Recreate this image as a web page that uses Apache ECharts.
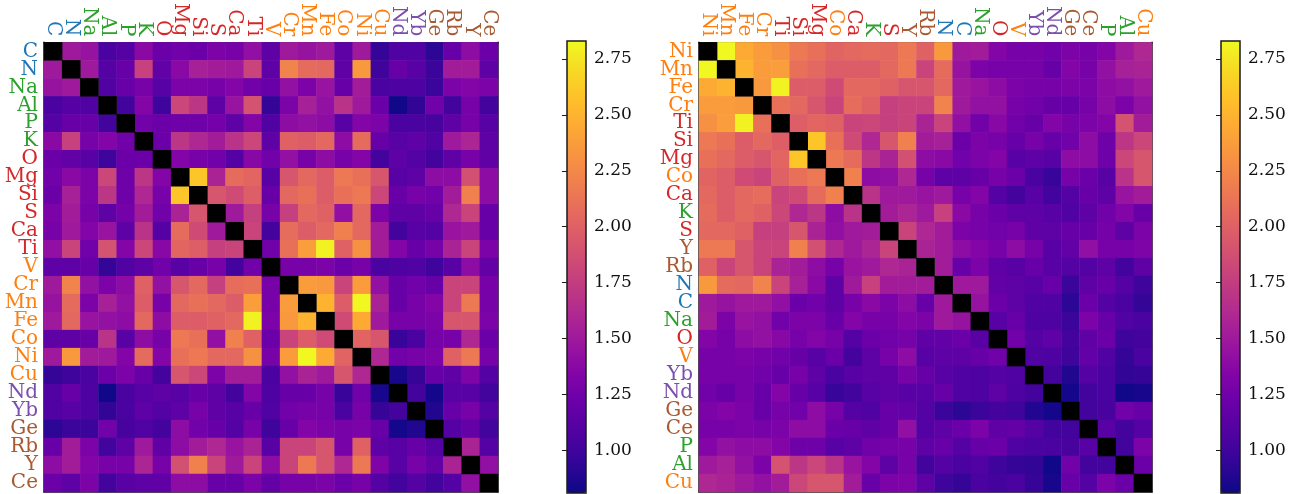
<!DOCTYPE html>
<html><head><meta charset="utf-8">
<script src="https://cdn.jsdelivr.net/npm/echarts@6/dist/echarts.min.js"></script>
<style>html,body{margin:0;padding:0;background:#fff}#c{width:1301px;height:494px}</style>
</head><body><div id="c"></div><script>
// ---------------- DATA ----------------
const elementsLeft = ['C','N','Na','Al','P','K','O','Mg','Si','S','Ca','Ti','V','Cr','Mn','Fe','Co','Ni','Cu','Nd','Yb','Ge','Rb','Y','Ce'];
const elementsRight = ['Ni','Mn','Fe','Cr','Ti','Si','Mg','Co','Ca','K','S','Y','Rb','N','C','Na','O','V','Yb','Nd','Ge','Ce','P','Al','Cu'];
// upper triangle (row i, columns i+1..end) in elementsLeft order
const upperTriangle = [
  [1.50,1.45,1.05,1.10,1.38,1.22,1.25,1.22,1.30,1.28,1.42,1.15,1.50,1.45,1.50,1.15,1.50,0.95,1.08,1.08,0.92,1.20,1.40,1.22],
  [1.50,1.10,1.20,1.78,1.17,1.38,1.55,1.52,1.50,1.80,1.15,2.22,2.07,2.05,1.15,2.35,1.00,1.20,1.12,0.98,1.52,1.52,1.15],
  [1.08,1.20,1.28,1.12,1.30,1.30,1.28,1.35,1.25,1.20,1.43,1.30,1.46,1.20,1.52,1.05,1.07,1.07,0.98,1.30,1.35,1.30],
  [1.02,1.35,1.00,1.82,1.70,1.15,1.46,1.90,0.95,1.30,1.55,1.43,1.68,1.50,1.22,0.82,0.94,1.25,1.02,1.28,1.03],
  [1.25,1.22,1.24,1.24,1.27,1.15,1.35,1.08,1.40,1.43,1.40,1.12,1.35,1.30,1.05,1.05,1.04,1.15,1.28,1.12],
  [1.22,1.70,1.60,1.52,1.68,1.82,1.15,2.00,1.97,2.05,1.40,2.07,1.20,1.12,1.15,1.08,1.50,1.58,1.15],
  [1.35,1.28,1.25,1.10,1.37,1.25,1.43,1.28,1.40,1.28,1.35,1.03,1.15,1.10,1.03,1.16,1.28,1.16],
  [2.60,1.57,2.07,2.03,1.12,1.92,2.05,1.97,2.15,2.10,1.92,1.12,1.15,1.40,1.40,1.88,1.40],
  [1.92,1.85,1.98,1.20,2.05,2.10,1.97,2.10,2.15,1.82,1.20,1.28,1.25,1.52,2.20,1.40],
  [1.50,1.77,1.28,1.77,2.05,2.00,1.42,2.05,1.30,1.15,1.16,1.20,1.60,1.80,1.20],
  [1.80,1.03,2.08,1.97,2.05,2.20,2.05,1.52,1.02,1.12,1.10,1.46,1.50,1.20],
  [1.25,2.10,2.38,2.80,2.00,2.30,1.52,1.35,1.20,1.28,1.57,1.80,1.30],
  [1.28,1.28,1.30,1.22,1.28,1.05,1.07,1.08,1.00,1.12,1.40,1.18],
  [2.37,2.35,1.80,2.37,1.43,1.20,1.25,1.20,1.80,1.80,1.28],
  [2.50,1.97,2.82,1.57,1.20,1.28,1.35,1.80,2.15,1.28],
  [1.85,2.45,1.50,1.28,1.28,1.30,1.92,1.92,1.30],
  [2.02,1.92,0.97,1.05,1.28,1.28,1.60,1.22],
  [1.60,1.25,1.28,1.30,2.00,2.15,1.28],
  [0.85,0.96,1.20,1.15,1.32,1.10],
  [1.03,0.84,1.12,1.12,1.02],
  [0.88,1.20,1.28,1.10],
  [1.10,1.18,1.02],
  [1.57,1.10],
  [1.42],
  []
];
const colorbarTicks = [1.00,1.25,1.50,1.75,2.00,2.25,2.50,2.75];
const colorMin = 0.81, colorMax = 2.83;

// ---------------- STYLE ----------------
const groupColor = {
  C:'#1f77b4', N:'#1f77b4',
  Na:'#2ca02c', Al:'#2ca02c', P:'#2ca02c', K:'#2ca02c',
  O:'#d62728', Mg:'#d62728', Si:'#d62728', S:'#d62728', Ca:'#d62728', Ti:'#d62728',
  V:'#ff7f0e', Cr:'#ff7f0e', Mn:'#ff7f0e', Fe:'#ff7f0e', Co:'#ff7f0e', Ni:'#ff7f0e', Cu:'#ff7f0e',
  Nd:'#7b4fae', Yb:'#7b4fae',
  Ge:'#a85a32', Rb:'#a85a32', Y:'#a85a32', Ce:'#a85a32'
};
const plasma = ['#0d0887','#330597','#5002a2','#6a00a8','#8405a7','#9c179e','#b12a90','#c33d80','#d35171','#e16462','#ed7953','#f68f44','#fca636','#febe2a','#f8d824','#f0f921'];
const FONT = 'DejaVu Serif';
const FRAME = '#1a1a1a';
const LABEL_SIZE = 20;

// ---------------- BUILD ----------------
const n = elementsLeft.length;
const M = [];
for (let i = 0; i < n; i++) { M.push(new Array(n).fill(null)); }
for (let i = 0; i < n; i++) {
  for (let j = i + 1; j < n; j++) {
    M[i][j] = upperTriangle[i][j - i - 1];
    M[j][i] = M[i][j];
  }
}
function heatData(order) {
  const idx = order.map(e => elementsLeft.indexOf(e));
  const out = [];
  for (let r = 0; r < order.length; r++) {
    for (let c = 0; c < order.length; c++) {
      const v = M[idx[r]][idx[c]];
      if (v !== null) out.push([c, r, v]);
    }
  }
  return out;
}
function diagData(order) {
  return order.map((e, i) => [i, i, 0]);
}

const tickStyle = {show:true, alignWithLabel:true, inside:true, length:5, lineStyle:{color:FRAME, width:1}};
const lineStyle = {show:true, onZero:false, lineStyle:{color:FRAME, width:1.5}};
function catAxes(order, g) {
  const xs = [
    {gridIndex:g, type:'category', data:order, position:'top', axisLine:lineStyle, axisTick:tickStyle,
     splitLine:{show:false},
     axisLabel:{interval:0, rotate:90, margin:6, fontFamily:FONT, fontSize:LABEL_SIZE, color:(v)=>groupColor[v]}},
    {gridIndex:g, type:'category', data:order, position:'bottom', axisLine:lineStyle, axisTick:tickStyle,
     splitLine:{show:false}, axisLabel:{show:false}}
  ];
  const ys = [
    {gridIndex:g, type:'category', data:order, inverse:true, position:'left', axisLine:lineStyle, axisTick:tickStyle,
     splitLine:{show:false},
     axisLabel:{interval:0, margin:6, fontFamily:FONT, fontSize:LABEL_SIZE, color:(v)=>groupColor[v]}},
    {gridIndex:g, type:'category', data:order, inverse:true, position:'right', axisLine:lineStyle, axisTick:tickStyle,
     splitLine:{show:false}, axisLabel:{show:false}}
  ];
  return {xs, ys};
}
function cbAxes(g) {
  return {
    x: {gridIndex:g, type:'value', min:0, max:1, show:false},
    y: {gridIndex:g, type:'value', min:colorMin, max:colorMax, position:'right', z:5,
        axisLine:{show:false}, splitLine:{show:false},
        axisTick:{show:true, inside:true, length:5, customValues:colorbarTicks, lineStyle:{color:FRAME}},
        axisLabel:{show:true, customValues:colorbarTicks, margin:8, fontFamily:FONT, fontSize:17, color:'#111',
                   formatter:(v)=>v.toFixed(2)}}
  };
}
const L = catAxes(elementsLeft, 0), R = catAxes(elementsRight, 1);
const cbL = cbAxes(2), cbR = cbAxes(3);

const option = {
  animation:false,
  backgroundColor:'#fff',
  grid:[
    {left:44, top:39, width:454, height:453},
    {left:699, top:39, width:453, height:453},
    {left:567, top:41, width:19, height:452, show:true, z:5, borderColor:FRAME, borderWidth:1.5, backgroundColor:'transparent'},
    {left:1221, top:41, width:19, height:452, show:true, z:5, borderColor:FRAME, borderWidth:1.5, backgroundColor:'transparent'}
  ],
  xAxis:[...L.xs, ...R.xs, cbL.x, cbR.x],
  yAxis:[...L.ys, ...R.ys, cbL.y, cbR.y],
  visualMap:[
    {type:'continuous', seriesIndex:0, min:colorMin, max:colorMax, inRange:{color:plasma},
     show:true, calculable:false, hoverLink:false, orient:'vertical', left:567, top:41, itemWidth:19, itemHeight:452, padding:0, z:1},
    {type:'continuous', seriesIndex:1, min:colorMin, max:colorMax, inRange:{color:plasma},
     show:true, calculable:false, hoverLink:false, orient:'vertical', left:1221, top:41, itemWidth:19, itemHeight:452, padding:0, z:1}
  ],
  series:[
    {type:'heatmap', xAxisIndex:0, yAxisIndex:0, data:heatData(elementsLeft), itemStyle:{borderWidth:0}, emphasis:{disabled:true}, progressive:0},
    {type:'heatmap', xAxisIndex:2, yAxisIndex:2, data:heatData(elementsRight), itemStyle:{borderWidth:0}, emphasis:{disabled:true}, progressive:0},
    {type:'heatmap', xAxisIndex:0, yAxisIndex:0, data:diagData(elementsLeft), itemStyle:{color:'#000', borderWidth:0}, emphasis:{disabled:true}},
    {type:'heatmap', xAxisIndex:2, yAxisIndex:2, data:diagData(elementsRight), itemStyle:{color:'#000', borderWidth:0}, emphasis:{disabled:true}}
  ]
};
const chart = echarts.init(document.getElementById('c'), null, {renderer:'canvas'});
chart.setOption(option);
</script></body></html>
